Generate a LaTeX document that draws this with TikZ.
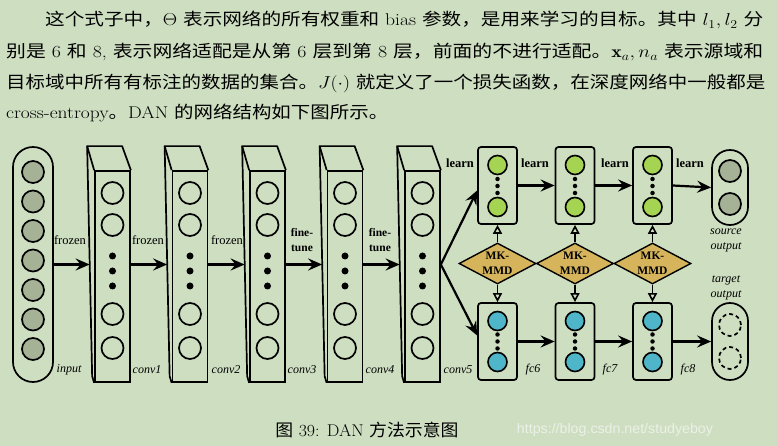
\documentclass[tikz,border=0pt]{standalone}
\usepackage{fontspec}
\usepackage{graphicx}
\usetikzlibrary{arrows.meta,shapes.geometric,calc}
\newfontfamily\cjk{Noto Sans CJK SC}
\newfontfamily\tms{Liberation Serif}
\newfontfamily\wmf{Liberation Sans}
\newcommand\zh[1]{{\cjk #1}}
\definecolor{bg}{RGB}{206,222,193}
\definecolor{greenc}{RGB}{164,212,82}
\definecolor{bluec}{RGB}{78,182,200}
\definecolor{gold}{RGB}{213,180,92}
\definecolor{grayc}{RGB}{166,178,150}
\definecolor{wmc}{RGB}{236,241,231}
\begin{document}
\begin{tikzpicture}[x=1pt,y=-1pt,
 lw/.style={line width=1.7pt},
 neuron/.style={circle,draw,line width=1.7pt,minimum size=22pt,inner sep=0pt},
 sneuron/.style={circle,draw,line width=1.6pt,minimum size=19pt,inner sep=0pt},
 dotn/.style={circle,fill=black,minimum size=7pt,inner sep=0pt},
 sdot/.style={circle,fill=black,minimum size=4.5pt,inner sep=0pt},
 convface/.style={draw,lw,minimum width=35pt,minimum height=211pt,inner sep=0pt},
 fcbox/.style={draw,lw,rounded corners=3pt,minimum width=39pt,minimum height=77pt,inner sep=0pt},
 pill/.style={draw,lw,rounded corners=18pt,minimum width=36pt,inner sep=0pt},
 arr/.style={line width=2.2pt,-{Stealth[length=14pt,width=12pt,inset=5pt]}},
 oarr/.style={line width=1.6pt,-{Triangle[open,length=9pt,width=9pt,fill=bg]}},
 mmd/.style={diamond,draw,line width=1.4pt,fill=gold,minimum width=77pt,minimum height=41pt,inner sep=0pt},
 lab/.style={font=\tms\fontsize{12.5}{13}\selectfont,inner sep=0pt},
 ilab/.style={font=\tms\itshape\fontsize{12}{15}\selectfont,inner sep=0pt,align=center},
 blab/.style={font=\tms\bfseries\fontsize{12.5}{14}\selectfont,inner sep=0pt,align=center},
 para/.style={anchor=west,inner sep=0pt,font=\fontsize{17}{20}\selectfont},
]
\fill[bg] (0,0) rectangle (777,446);

% paragraph
\node[para] (p1) at (45,20) {\resizebox{718pt}{\height}{\zh{这个式子中，}$\Theta$ \zh{表示网络的所有权重和} bias \zh{参数，是用来学习的目标。其中} $l_1,l_2$ \zh{分}}};
\node[para] (p2) at (6,52) {\resizebox{757pt}{\height}{\zh{别是} 6 \zh{和} 8, \zh{表示网络适配是从第} 6 \zh{层到第} 8 \zh{层，前面的不进行适配。}$\mathbf{x}_a,n_a$ \zh{表示源域和}}};
\node[para] (p3) at (6,83) {\resizebox{759pt}{\height}{\zh{目标域中所有有标注的数据的集合。}$J(\cdot)$ \zh{就定义了一个损失函数，在深度网络中一般都是}}};
\node[para] (p4) at (6,113) {\resizebox{382pt}{\height}{cross-entropy\zh{。}DAN \zh{的网络结构如下图所示。}}};

% input
\node[pill,minimum width=40pt,minimum height=235pt,rounded corners=20pt] (in) at (33,264.5) {};
\foreach \i in {0,...,6} \node[neuron,fill=grayc] (in\i) at (33,172+\i*29.5) {};

% conv boxes
\foreach \n/\X in {1/95,2/172.5,3/250,4/327.5,5/405} {
  \node[convface] (c\n) at (\X+17.5,276.5) {};
  \draw[lw,line join=round] (c\n.north west) -- ++(-7,-24) -- ++(35,0) -- (c\n.north east);
  \draw[lw,line join=round] (c\n.north west) ++(-7,-24) -- ++(5,230) -- (c\n.south west);
  \node[neuron] (c\n1) at (\X+17.5,193) {};
  \node[neuron] (c\n2) at (\X+17.5,225) {};
  \node[neuron] (c\n3) at (\X+17.5,314) {};
  \node[neuron] (c\n4) at (\X+17.5,348) {};
  \node[dotn] (c\n d1) at (\X+17.5,256) {};
  \node[dotn] (c\n d2) at (\X+17.5,271) {};
  \node[dotn] (c\n d3) at (\X+17.5,286) {};
}

% arrows in conv chain
\draw[arr] (in.east) -- ($(c1.west |- in.east)+(-4.5,0)$);
\draw[arr] (c1.east |- in.east) -- ($(c2.west |- in.east)+(-4.5,0)$);
\draw[arr] (c2.east |- in.east) -- ($(c3.west |- in.east)+(-4.5,0)$);
\draw[arr] (c3.east |- in.east) -- ($(c4.west |- in.east)+(-4.5,0)$);
\draw[arr] (c4.east |- in.east) -- ($(c5.west |- in.east)+(-4.5,0)$);

\node[lab] (fz1) at (70,240) {frozen};
\node[lab] (fz2) at (148,240) {frozen};
\node[lab] (fz3) at (227,240) {frozen};
\node[blab,font=\tms\bfseries\fontsize{11.5}{14.5}\selectfont] (ft1) at (302,240) {fine-\\tune};
\node[blab,font=\tms\bfseries\fontsize{11.5}{14.5}\selectfont] (ft2) at (380,240) {fine-\\tune};

\node[ilab] (l0) at (69,370) {input};
\node[ilab] (l1) at (147,370) {conv1};
\node[ilab] (l2) at (226,370) {conv2};
\node[ilab] (l3) at (302,370) {conv3};
\node[ilab] (l4) at (380,370) {conv4};
\node[ilab] (l5) at (458,370) {conv5};

% fc layers
\foreach \n/\x in {6/497.5,7/575,8/652.5} {
  \node[fcbox] (t\n) at (\x,185.5) {};
  \node[sneuron,fill=greenc] (t\n1) at (\x,165) {};
  \node[sneuron,fill=greenc] (t\n2) at (\x,207) {};
  \node[sdot] (t\n d1) at (\x,179) {};
  \node[sdot] (t\n d2) at (\x,186) {};
  \node[sdot] (t\n d3) at (\x,193) {};
  \node[fcbox] (b\n) at (\x,341.5) {};
  \node[sneuron,fill=bluec] (b\n1) at (\x,321) {};
  \node[sneuron,fill=bluec] (b\n2) at (\x,362) {};
  \node[sdot] (b\n d1) at (\x,334.5) {};
  \node[sdot] (b\n d2) at (\x,341.5) {};
  \node[sdot] (b\n d3) at (\x,348.5) {};
  \node[mmd] (m\n) at (\x,263.5) {};
  \node[blab,font=\tms\bfseries\fontsize{11.5}{15}\selectfont] (m\n t) at (m\n) {MK-\\MMD};
  \draw[oarr] (m\n.north) -- (t\n.south);
  \draw[oarr] (m\n.south) -- (b\n.north);
}

% outputs
\node[pill,minimum height=75pt] (src) at (730,187.5) {};
\node[neuron,fill=grayc] (src1) at (730,171) {};
\node[neuron,fill=grayc] (src2) at (730,204) {};
\node[pill,minimum height=77pt] (tgt) at (730,341.5) {};
\node[neuron,dash pattern=on 4pt off 3pt] (tgt1) at (730,325) {};
\node[neuron,dash pattern=on 4pt off 3pt] (tgt2) at (730,358) {};

% branch arrows
\draw[arr] (c5.east |- in.east) -- ($(t6.west)+(0,5)$);
\draw[arr] (c5.east |- in.east) -- ($(b6.west)+(0,-6)$);
\draw[arr] (t6.east) -- (t7.west);
\draw[arr] (t7.east) -- (t8.west);
\draw[arr] (t8.east) -- (src.west);
\draw[arr] (b6.east) -- (b7.west);
\draw[arr] (b7.east) -- (b8.west);
\draw[arr] (b8.east) -- (tgt.west);

\node[blab] (ln1) at (460,163) {learn};
\node[blab] (ln2) at (535,163) {learn};
\node[blab] (ln3) at (615,163) {learn};
\node[blab] (ln4) at (690,163) {learn};

\node[ilab] (l6) at (533,370) {fc6};
\node[ilab] (l7) at (610,370) {fc7};
\node[ilab] (l8) at (688,370) {fc8};
\node[ilab] (so) at (726,240) {source\\output};
\node[ilab] (to) at (726,288) {target\\output};

% caption and watermark
\node[inner sep=0pt,font=\fontsize{17}{20}\selectfont] (cap) at (367,430) {\resizebox{183pt}{\height}{\zh{图} 39: DAN \zh{方法示意图}}};
\node[inner sep=0pt,font=\wmf\fontsize{14}{16}\selectfont,text=wmc] (wm) at (615,430) {\resizebox{196pt}{\height}{https://blog.csdn.net/studyeboy}};
\end{tikzpicture}
\end{document}
